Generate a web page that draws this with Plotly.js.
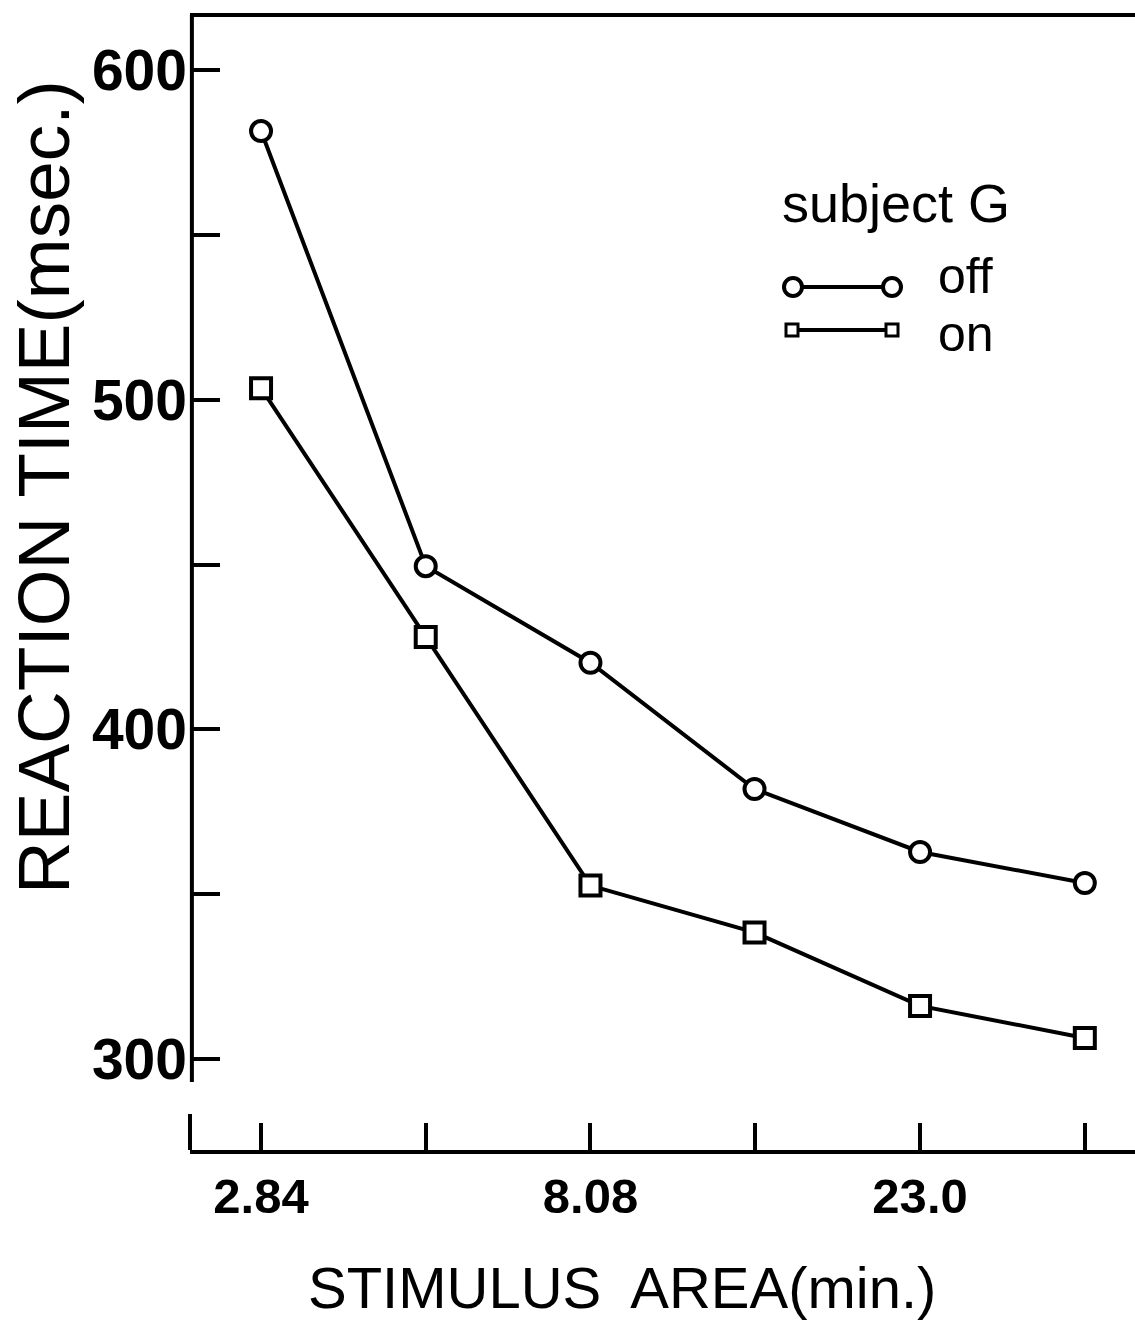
<!DOCTYPE html>
<html>
<head>
<meta charset="utf-8">
<script src="https://cdn.plot.ly/plotly-3.0.1.min.js"></script>
<style>html,body{margin:0;padding:0;background:#fff;}</style>
</head>
<body>
<div id="chart" style="width:1135px;height:1331px;"></div>
<script>
// Stimulus area (min.) — log-spaced levels
const stimulusArea = [2.84, 4.79, 8.08, 13.6, 23.0, 38.8];
const tickLabels = ['2.84', '', '8.08', '', '23.0', ''];
// Reaction time (msec.)
const rtOff = [581.5, 449.5, 420.2, 381.9, 362.8, 353.4];
const rtOn  = [503.5, 428.0, 352.6, 338.4, 316.1, 306.4];
const yTickVals = [300, 350, 400, 450, 500, 550, 600];
const yTickText = ['300', '', '400', '', '500', '', '600'];

const FONT = '"Liberation Sans", Arial, sans-serif';
const L = 190, T = 15, W = 1135, H = 1331, PW = 945, PH = 1135;
const px = v => (v - L) / PW;
const py = v => (T + PH - v) / PH;

const traces = [
  {x: stimulusArea, y: rtOff, name: 'off', type: 'scatter', mode: 'lines+markers',
   line: {color: '#000', width: 4},
   marker: {symbol: 'circle', size: 20, color: '#fff', line: {color: '#000', width: 4}},
   showlegend: false, cliponaxis: false},
  {x: stimulusArea, y: rtOn, name: 'on', type: 'scatter', mode: 'lines+markers',
   line: {color: '#000', width: 4},
   marker: {symbol: 'square', size: 20, color: '#fff', line: {color: '#000', width: 4}},
   showlegend: false, cliponaxis: false}
];

const lw = 4;
const shapes = [
  // top border
  {type: 'line', xref: 'paper', yref: 'paper', x0: 0, x1: 1, y0: 1, y1: 1, line: {color: '#000', width: lw}},
  // y axis line
  {type: 'line', xref: 'paper', yref: 'paper', x0: 0.002, x1: 0.002, y0: py(1082), y1: 1, line: {color: '#000', width: lw}},
  // x axis left end mark
  {type: 'line', xref: 'paper', yref: 'paper', x0: 0, x1: 0, y0: 0, y1: py(1114), line: {color: '#000', width: lw}},
  // legend lines
  {type: 'line', xref: 'paper', yref: 'paper', x0: px(793), x1: px(892), y0: py(287), y1: py(287), line: {color: '#000', width: 4}},
  {type: 'line', xref: 'paper', yref: 'paper', x0: px(792), x1: px(892), y0: py(330), y1: py(330), line: {color: '#000', width: 4}},
];
// legend circles
[793, 892].forEach(cx => shapes.push({type: 'circle', xref: 'paper', yref: 'paper',
  xsizemode: 'pixel', ysizemode: 'pixel', xanchor: px(cx), yanchor: py(287),
  x0: -9, x1: 9, y0: -9, y1: 9, fillcolor: '#fff', line: {color: '#000', width: 4}}));
[792, 892].forEach(cx => shapes.push({type: 'rect', xref: 'paper', yref: 'paper',
  xsizemode: 'pixel', ysizemode: 'pixel', xanchor: px(cx), yanchor: py(330),
  x0: -6, x1: 6, y0: -6, y1: 6, fillcolor: '#fff', line: {color: '#000', width: 3}}));

const annotations = [
  {text: 'REACTION TIME(msec.)', xref: 'paper', yref: 'paper', x: px(44), y: py(487),
   textangle: -90, showarrow: false, xanchor: 'center', yanchor: 'middle',
   font: {family: FONT, size: 73, color: '#000'}},
  {text: 'STIMULUS  AREA(min.)', xref: 'paper', yref: 'paper', x: px(622), y: py(1287),
   showarrow: false, xanchor: 'center', yanchor: 'middle',
   font: {family: FONT, size: 58, color: '#000'}},
  {text: 'subject G', xref: 'paper', yref: 'paper', x: px(780), y: py(203),
   showarrow: false, xanchor: 'left', yanchor: 'middle',
   font: {family: FONT, size: 54, color: '#000'}},
  {text: 'off', xref: 'paper', yref: 'paper', x: px(936), y: py(276),
   showarrow: false, xanchor: 'left', yanchor: 'middle',
   font: {family: FONT, size: 50, color: '#000'}},
  {text: 'on', xref: 'paper', yref: 'paper', x: px(936), y: py(334),
   showarrow: false, xanchor: 'left', yanchor: 'middle',
   font: {family: FONT, size: 50, color: '#000'}}
];

const layout = {
  width: W, height: H,
  margin: {l: L, r: W - L - PW, t: T, b: H - T - PH, pad: 0},
  paper_bgcolor: '#fff', plot_bgcolor: '#fff',
  showlegend: false,
  xaxis: {type: 'log', range: [0.3554, 1.658], tickvals: stimulusArea, ticktext: tickLabels,
    ticks: 'inside', ticklen: 27, tickwidth: 4, tickcolor: '#000',
    showline: true, linecolor: '#000', linewidth: 4, showgrid: false, zeroline: false,
    ticklabelstandoff: 0,
    tickfont: {family: FONT, size: 49, color: '#000', weight: 'bold'}},
  yaxis: {range: [272.4, 616.7], tickvals: yTickVals, ticktext: yTickText,
    ticks: 'inside', ticklen: 30, tickwidth: 4, tickcolor: '#000',
    showline: false, showgrid: false, zeroline: false,
    ticklabelstandoff: 2,
    tickfont: {family: FONT, size: 57, color: '#000', weight: 'bold'}},
  shapes: shapes,
  annotations: annotations
};

Plotly.newPlot('chart', traces, layout, {displayModeBar: false, staticPlot: true});
</script>
</body>
</html>
